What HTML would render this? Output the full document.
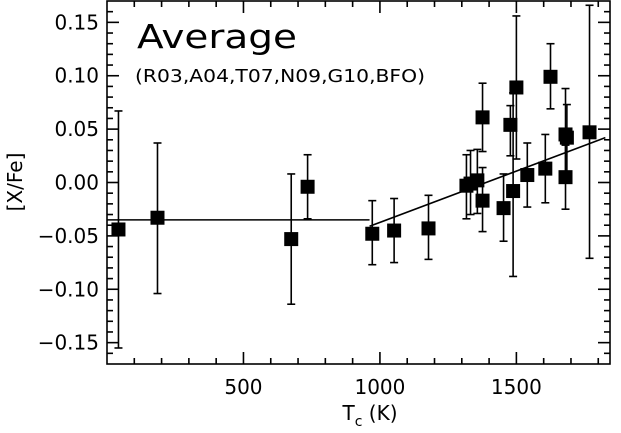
<!DOCTYPE html>
<html><head><meta charset="utf-8"><style>
body{margin:0;background:#fff}
svg{display:block;font-family:"DejaVu Sans","Liberation Sans",sans-serif}
</style></head><body>
<svg id="c" width="621" height="433"></svg>
<script>
const temps=[42,185,675,735,972,1052,1178,1317,1332,1357,1376,1376,1453,1478,1488,1500,1540,1606,1625,1680,1680,1685,1768];
const vals=[-0.044,-0.033,-0.053,-0.004,-0.048,-0.045,-0.043,-0.003,-0.001,0.002,-0.017,0.061,-0.024,0.054,-0.008,0.089,0.007,0.013,0.099,0.005,0.045,0.042,0.047];
const errHi=[0.067,0.037,0.008,0.026,-0.017,-0.015,-0.012,0.026,0.030,0.031,0.014,0.093,0.008,0.072,0.084,0.156,0.037,0.045,0.130,0.035,0.088,0.073,0.166];
const errLo=[-0.155,-0.104,-0.114,-0.034,-0.077,-0.075,-0.072,-0.034,-0.030,-0.029,-0.046,0.029,-0.055,0.025,-0.088,0.022,-0.023,-0.019,0.069,-0.025,0.005,0.005,-0.071];
const xTicks=[500,1000,1500];
const yTicks=[-0.15,-0.10,-0.05,0.00,0.05,0.10,0.15];
const flatFit=[0,962,-0.035];
const slopeFit=[962,-0.041,1826,0.042];
const L=107,R=610,T=1,B=364,X0=0,X1=1843,Y0=-0.17,Y1=0.17;
const sx=v=>L+(v-X0)/(X1-X0)*(R-L), sy=v=>B-(v-Y0)/(Y1-Y0)*(B-T);
const svg=document.getElementById('c'),NS='http://www.w3.org/2000/svg';
function mk(t,a,p){const e=document.createElementNS(NS,t);for(const k in a)e.setAttribute(k,a[k]);(p||svg).appendChild(e);return e;}
const sw={stroke:'#000','stroke-width':1.6,fill:'none'};
let fr=mk('rect',Object.assign({x:L,y:T,width:R-L,height:B-T},sw));


for(let t=100;t<X1;t+=100){const maj=t%500==0,len=maj?12:6;
 mk('line',Object.assign({x1:sx(t),x2:sx(t),y1:B,y2:B-len},sw));
 mk('line',Object.assign({x1:sx(t),x2:sx(t),y1:T,y2:T+len},sw));}
for(let i=-16;i<=16;i++){const v=i/100,maj=i%5==0,len=maj?12:6;
 mk('line',Object.assign({x1:L,x2:L+len,y1:sy(v),y2:sy(v)},sw));
 mk('line',Object.assign({x1:R,x2:R-len,y1:sy(v),y2:sy(v)},sw));}
xTicks.forEach(t=>{const e=mk('text',{x:sx(t),y:394,'text-anchor':'middle','font-size':20});e.textContent=t;
 
 });
yTicks.forEach(v=>{const e=mk('text',{x:99,y:sy(v)+7,'text-anchor':'end','font-size':20});e.textContent=(v<0?'\u2212':'')+Math.abs(v).toFixed(2);
 
 });
let xt=mk('text',{x:370,y:420,'text-anchor':'middle','font-size':20});
xt.innerHTML='T<tspan dy="6" font-size="14">c</tspan><tspan dy="-6"> (K)</tspan>';


let yt=mk('text',{x:0,y:0,'text-anchor':'middle','font-size':20,transform:'translate(22,182) rotate(-90)'});
yt.textContent='[X/Fe]';


let t1=mk('text',{x:137,y:48,'font-size':33,textLength:160,lengthAdjust:'spacingAndGlyphs'});t1.textContent='Average';


let t2=mk('text',{x:135,y:82,'font-size':18,textLength:290,lengthAdjust:'spacingAndGlyphs'});t2.textContent='(R03,A04,T07,N09,G10,BFO)';


let f1=mk('line',Object.assign({x1:sx(flatFit[0]),x2:sx(flatFit[1]),y1:sy(flatFit[2]),y2:sy(flatFit[2])},sw));


let f2=mk('line',Object.assign({x1:sx(slopeFit[0]),y1:sy(slopeFit[1]),x2:sx(slopeFit[2]),y2:sy(slopeFit[3])},sw));


temps.forEach((t,i)=>{const x=sx(t);
 const g=mk('g',{});
 
 
 mk('line',Object.assign({x1:x,x2:x,y1:sy(errHi[i]),y2:sy(errLo[i])},sw),g);
 mk('line',Object.assign({x1:x-4,x2:x+4,y1:sy(errHi[i]),y2:sy(errHi[i])},sw),g);
 mk('line',Object.assign({x1:x-4,x2:x+4,y1:sy(errLo[i]),y2:sy(errLo[i])},sw),g);
 mk('rect',{x:x-7,y:sy(vals[i])-7,width:14,height:14,fill:'#000'},g);});
</script>
</body></html>
